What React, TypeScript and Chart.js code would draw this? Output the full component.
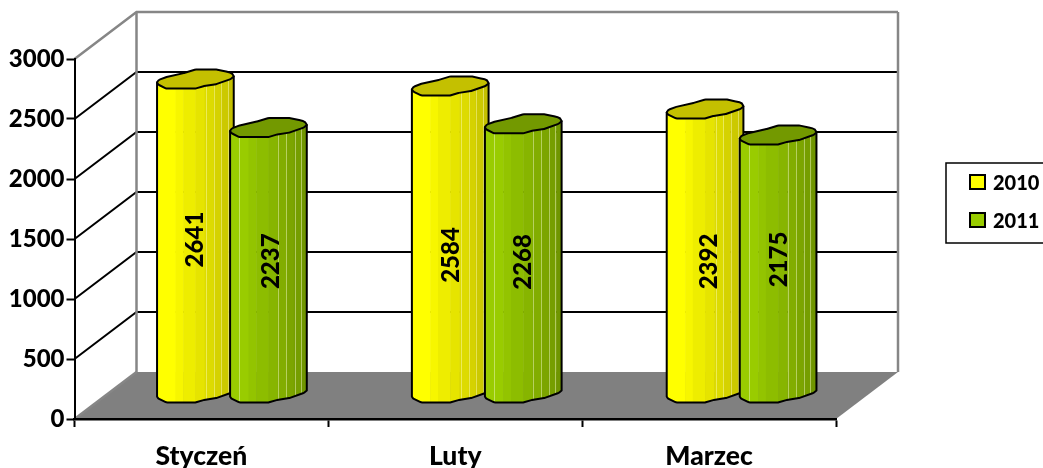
import React, { useEffect, useRef } from "react";
import { Chart, registerables } from "chart.js";

Chart.register(...registerables);

const categories = ["Styczeń", "Luty", "Marzec"];
const seriesNames = ["2010", "2011"];
const values2010 = [2641, 2584, 2392];
const values2011 = [2237, 2268, 2175];
const yTicks = [0, 500, 1000, 1500, 2000, 2500, 3000];

const FONT = "Lato, Carlito, sans-serif";
const DEPTH_X = 62;
const DEPTH_Y = -47;
const BAR_SHIFT_X = 30.5;
const BAR_SHIFT_Y = -22;
const CATEGORY_DRIFT_X = 1;
const GREY = "#868686";

const styles = [
  {
    face: "#ffff00",
    top: "#c4c000",
    dark: [196, 192, 0],
    base: [255, 255, 0],
    seams: [0.64, 0.74, 0.84, 0.93],
    seamColor: "rgba(255,255,190,0.45)",
    labelNudgeX: [0, 1, 4],
    labelNudgeY: [0, 12, 7],
  },
  {
    face: "#99cc00",
    top: "#739900",
    dark: [112, 150, 0],
    base: [153, 204, 0],
    seams: [0.12, 0.63, 0.73, 0.84, 0.92],
    seamColor: "rgba(235,245,190,0.5)",
    labelNudgeX: [2.5, 0, 1],
    labelNudgeY: [-2.5, 0, -8],
  },
];

const bandStops = [0, 0.24, 0.34, 0.5, 0.62, 0.74, 0.83, 0.93, 1];

// outline of the irregular cylinder end: u in -1..1 across, px offset vertically from the left corner
const frontCurve: [number, number][] = [
  [-1, 0], [-0.97, 2], [-0.76, 6], [0, 6], [0.22, 3.5], [0.55, 1.5], [0.92, -3.5], [1, -6],
];
const backCurve: [number, number][] = [
  [1, -6], [0.97, -9.5], [0.8, -11], [0.56, -13], [0, -13], [-0.3, -9.5], [-0.76, -5.5], [-0.97, -2.5], [-1, 0],
];

function tracePoints(ctx: any, pts: [number, number][]) {
  for (let i = 1; i < pts.length - 1; i++) {
    ctx.arcTo(pts[i][0], pts[i][1], pts[i + 1][0], pts[i + 1][1], 5);
  }
  ctx.lineTo(pts[pts.length - 1][0], pts[pts.length - 1][1]);
}

const wallsPlugin = {
  id: "walls",
  beforeDraw(chart: any) {
    const { ctx, chartArea: a, scales } = chart;
    const y = scales.y;
    ctx.save();
    ctx.fillStyle = "#808080";
    ctx.beginPath();
    ctx.moveTo(a.left, a.bottom);
    ctx.lineTo(a.left + DEPTH_X, a.bottom + DEPTH_Y);
    ctx.lineTo(a.right + DEPTH_X, a.bottom + DEPTH_Y);
    ctx.lineTo(a.right, a.bottom);
    ctx.closePath();
    ctx.fill();
    yTicks.forEach((t) => {
      const py = y.getPixelForValue(t);
      const edge = t === 0 || t === 3000;
      ctx.strokeStyle = edge ? GREY : "#000000";
      ctx.lineWidth = edge ? 2.5 : 2;
      ctx.beginPath();
      ctx.moveTo(a.left, py);
      ctx.lineTo(a.left + DEPTH_X, py + DEPTH_Y);
      if (t !== 0) ctx.lineTo(a.right + DEPTH_X, py + DEPTH_Y);
      ctx.stroke();
    });
    ctx.strokeStyle = GREY;
    ctx.lineWidth = 2.5;
    [a.left + DEPTH_X, a.right + DEPTH_X].forEach((x) => {
      ctx.beginPath();
      ctx.moveTo(x, a.top + DEPTH_Y);
      ctx.lineTo(x, a.bottom + DEPTH_Y);
      ctx.stroke();
    });
    ctx.restore();
  },
};

function mix(a: number[], b: number[], t: number) {
  return `rgb(${a.map((v, i) => Math.round(v + (b[i] - v) * t)).join(",")})`;
}

function drawCylinder(ctx: any, el: any, st: any, value: number, index: number) {
  const cx = el.x + BAR_SHIFT_X + index * CATEGORY_DRIFT_X;
  const hw = (el.width * 1.05) / 2;
  const baseY = el.base + BAR_SHIFT_Y;
  const topY = el.y + BAR_SHIFT_Y + 2.5;
  const px = (u: number) => cx + u * hw;
  const at = (curve: [number, number][], yy: number) =>
    curve.map(([u, d]) => [px(u), yy + d] as [number, number]);

  ctx.save();
  ctx.lineJoin = "round";
  ctx.lineWidth = 2;
  ctx.strokeStyle = "#000";

  const bodyPath = () => {
    ctx.beginPath();
    ctx.moveTo(px(-1), topY);
    ctx.lineTo(px(-1), baseY);
    tracePoints(ctx, at(frontCurve, baseY));
    ctx.lineTo(px(1), topY - 6);
    ctx.closePath();
  };

  bodyPath();
  ctx.save();
  ctx.clip();
  for (let i = 0; i < bandStops.length - 1; i++) {
    ctx.fillStyle = mix(st.base, st.dark, i / (bandStops.length - 2));
    const x0 = px(-1 + bandStops[i] * 2);
    const x1 = px(-1 + bandStops[i + 1] * 2);
    ctx.fillRect(x0, topY - 20, x1 - x0 + 0.5, baseY - topY + 40);
  }
  ctx.strokeStyle = st.seamColor;
  ctx.lineWidth = 1;
  st.seams.forEach((s: number) => {
    const x = Math.round(px(-1 + s * 2)) + 0.5;
    ctx.beginPath();
    ctx.moveTo(x, topY - 20);
    ctx.lineTo(x, baseY + 20);
    ctx.stroke();
  });
  ctx.restore();

  bodyPath();
  ctx.stroke();

  ctx.beginPath();
  ctx.moveTo(px(-1), topY);
  tracePoints(ctx, at(frontCurve, topY));
  tracePoints(ctx, at(backCurve, topY));
  ctx.closePath();
  ctx.fillStyle = st.top;
  ctx.fill();
  ctx.stroke();

  ctx.translate(cx + st.labelNudgeX[index], (baseY + topY) / 2 + st.labelNudgeY[index]);
  ctx.rotate(-Math.PI / 2);
  ctx.fillStyle = "#000";
  ctx.font = `900 24px ${FONT}`;
  ctx.textAlign = "center";
  ctx.textBaseline = "middle";
  ctx.fillText(String(value), 0, 0);
  ctx.restore();
}

const cylinderPlugin = {
  id: "cylinders",
  beforeDatasetDraw() {
    return false;
  },
  afterDatasetsDraw(chart: any) {
    const { ctx } = chart;
    chart.data.datasets.forEach((ds: any, di: number) => {
      const meta = chart.getDatasetMeta(di);
      meta.data.forEach((el: any, i: number) => drawCylinder(ctx, el, styles[di], ds.data[i], i));
    });
  },
};

const legendPlugin = {
  id: "boxLegend",
  afterDraw(chart: any) {
    const { ctx } = chart;
    ctx.save();
    ctx.strokeStyle = "#000";
    ctx.lineWidth = 1.5;
    ctx.fillStyle = "#fff";
    ctx.fillRect(946, 163, 120, 80);
    ctx.strokeRect(946, 163, 120, 80);
    chart.data.datasets.forEach((ds: any, i: number) => {
      const y = i === 0 ? 175 : 213;
      ctx.fillStyle = styles[i].face;
      ctx.lineWidth = 2;
      ctx.fillRect(970, y, 15, 14);
      ctx.strokeRect(970, y, 15, 14);
      ctx.fillStyle = "#000";
      ctx.font = `900 20px ${FONT}`;
      ctx.textAlign = "left";
      ctx.textBaseline = "middle";
      ctx.fillText(ds.label, 993, y + 9);
    });
    ctx.restore();
  },
};

export default function App() {
  const ref = useRef<HTMLCanvasElement | null>(null);
  useEffect(() => {
    if (!ref.current) return;
    const chart = new Chart(ref.current, {
      type: "bar",
      data: {
        labels: categories,
        datasets: [
          { label: seriesNames[0], data: values2010, backgroundColor: styles[0].face },
          { label: seriesNames[1], data: values2011, backgroundColor: styles[1].face },
        ],
      },
      options: {
        responsive: false,
        animation: false,
        layout: { padding: { left: 0, top: 59, right: 207, bottom: 0 } },
        datasets: { bar: { categoryPercentage: 0.5755, barPercentage: 1 } },
        plugins: { legend: { display: false }, tooltip: { enabled: false }, title: { display: false } },
        scales: {
          x: {
            afterFit(s: any) {
              s.height = 49;
            },
            border: { color: "#000", width: 2.5 },
            grid: { drawOnChartArea: false, drawTicks: true, tickLength: 8, tickColor: "#000", tickWidth: 2, offset: true },
            ticks: { color: "#000", font: { family: FONT, size: 26.5, weight: "900" }, padding: 14, maxRotation: 0 },
          },
          y: {
            min: 0,
            max: 3000,
            afterFit(s: any) {
              s.width = 74.5;
            },
            afterBuildTicks(s: any) {
              s.ticks = yTicks.map((value) => ({ value }));
            },
            border: { color: "#000", width: 2 },
            grid: { drawOnChartArea: false, drawTicks: true, tickLength: 8, tickColor: "#000", tickWidth: 2 },
            ticks: {
              color: "#000",
              font: { family: FONT, size: 24, weight: "900" },
              padding: 2,
              callback: (v: any) => String(v),
            },
          },
        },
      },
      plugins: [wallsPlugin, cylinderPlugin, legendPlugin],
    } as any);
    return () => chart.destroy();
  }, []);
  return (
    <div style={{ position: "fixed", left: 0, top: 0, width: 1043, height: 468, overflow: "hidden", background: "#fff" }}>
      <canvas ref={ref} width={1043} height={468} style={{ display: "block" }} />
    </div>
  );
}
